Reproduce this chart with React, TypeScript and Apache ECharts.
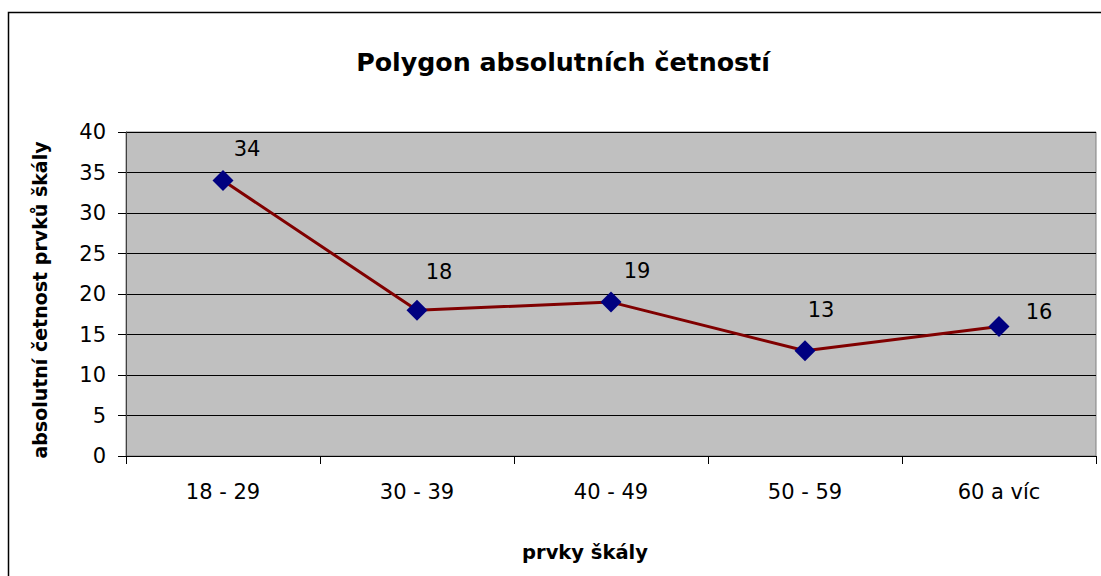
import React, { useEffect, useRef } from "react";
import * as echarts from "echarts";

const categories = ["18 - 29", "30 - 39", "40 - 49", "50 - 59", "60 a víc"];
const values = [34, 18, 19, 13, 16];
const labelOffsets = [
  [24, -32],
  [22, -38],
  [26, -31],
  [16, -41],
  [40, -14],
];
const yTicks = { min: 0, max: 40, interval: 5 };
const titleText = "Polygon absolutních četností";
const yName = "absolutní četnost prvků škály";
const xName = "prvky škály";

const FONT = "'DejaVu Sans', 'Liberation Sans', Arial, sans-serif";

export default function App() {
  const ref = useRef<HTMLDivElement>(null);
  useEffect(() => {
    if (!ref.current) return;
    const chart = echarts.init(ref.current, null, { renderer: "svg" });
    chart.setOption({
      animation: false,
      backgroundColor: "#ffffff",
      textStyle: { fontFamily: FONT },
      graphic: [
        {
          type: "rect",
          shape: { x: 8.5, y: 12.5, width: 1200, height: 700 },
          style: { fill: "none", stroke: "#000000", lineWidth: 1.5 },
          silent: true,
        },
        {
          type: "text",
          x: 563,
          y: 62,
          style: {
            text: titleText,
            font: `bold 25.3px ${FONT}`,
            fill: "#000000",
            textAlign: "center",
            textVerticalAlign: "middle",
          },
        },
        {
          type: "text",
          x: 585,
          y: 552,
          style: {
            text: xName,
            font: `bold 19.5px ${FONT}`,
            fill: "#000000",
            textAlign: "center",
            textVerticalAlign: "middle",
          },
        },
        {
          type: "text",
          x: 40,
          y: 300,
          rotation: Math.PI / 2,
          style: {
            text: yName,
            font: `bold 19px ${FONT}`,
            fill: "#000000",
            textAlign: "center",
            textVerticalAlign: "middle",
          },
        },
      ],
      grid: {
        left: 126,
        top: 132,
        width: 970,
        height: 324,
        show: true,
        backgroundColor: "#C0C0C0",
        borderColor: "#808080",
        borderWidth: 1,
      },
      xAxis: {
        type: "category",
        data: categories,
        boundaryGap: true,
        axisLine: { show: true, lineStyle: { color: "#000000", width: 1 } },
        axisTick: { show: true, length: 8, lineStyle: { color: "#000000" } },
        axisLabel: { color: "#000000", fontSize: 21, margin: 25, fontFamily: FONT },
        splitLine: { show: false },
      },
      yAxis: {
        type: "value",
        min: yTicks.min,
        max: yTicks.max,
        interval: yTicks.interval,
        axisLine: { show: true, lineStyle: { color: "#404040", width: 1 } },
        axisTick: { show: true, length: 8, lineStyle: { color: "#000000" } },
        axisLabel: { color: "#000000", fontSize: 21, margin: 20, fontFamily: FONT },
        splitLine: { show: true, lineStyle: { color: "#000000", width: 1 } },
      },
      series: [
        {
          type: "line",
          data: values.map((v, i) => ({
            value: v,
            label: { offset: labelOffsets[i] },
          })),
          symbol: "diamond",
          symbolSize: 21,
          lineStyle: { color: "#800000", width: 3 },
          itemStyle: { color: "#000080", borderWidth: 0 },
          label: {
            show: true,
            position: "inside",
            color: "#000000",
            fontSize: 21,
            fontFamily: FONT,
          },
        },
      ],
    });
    return () => chart.dispose();
  }, []);
  return (
    <div
      ref={ref}
      style={{ position: "absolute", left: 0, top: 0, width: 1101, height: 576 }}
    />
  );
}
